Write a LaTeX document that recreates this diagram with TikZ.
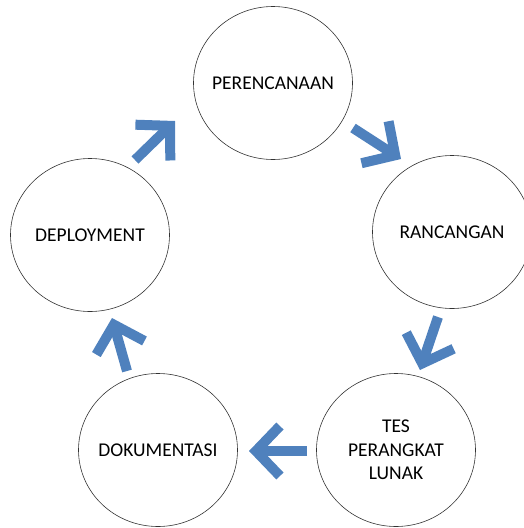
\documentclass[tikz,border=0pt]{standalone}
\usepackage{fontspec}
\setmainfont{Carlito}
\usetikzlibrary{shapes.geometric,arrows.meta}
\definecolor{officeblue}{RGB}{79,129,189}
\tikzstyle{phase} = [ellipse,
                    minimum width=159pt,
                    minimum height=153pt,
                    inner xsep=-8pt,
                    inner ysep=0pt,
                    align = center,
                    draw=black!80,
                    line width=0.6pt,
                    font=\fontsize{19.5}{23.5}\selectfont]
\tikzstyle{flow} = [draw=officeblue,
                   line width=10pt,
                   -{Straight Barb[sharp, length=24pt, width=50pt]}]
\tikzstyle{diagram} = [x=1pt,
                      y=1pt]

\begin{document}
\begin{tikzpicture}[diagram]
    \useasboundingbox (0,0) rectangle (523,-528);
    \node (plan) at (273,-83) [phase] {PERENCANAAN};
    \node (design) at (452,-232) [phase] {RANCANGAN};
    \node (test) at (396,-450) [phase] {TES\\PERANGKAT\\LUNAK};
    \node (docs) at (158,-450) [phase] {DOKUMENTASI};
    \node (deploy) at (90,-235) [phase] {DEPLOYMENT};
    % arrows between the phases
    \coordinate (t1) at (135,-160);
    \coordinate (h1) at (175,-121);
    \coordinate (t2) at (353,-128);
    \coordinate (h2) at (401,-159);
    \coordinate (t3) at (438,-317);
    \coordinate (h3) at (420,-370);
    \coordinate (t4) at (307,-451);
    \coordinate (h4) at (249,-451);
    \coordinate (t5) at (127,-371);
    \coordinate (h5) at (112,-318);
    \draw[flow] (t1) -- (h1);
    \draw[flow] (t2) -- (h2);
    \draw[flow] (t3) -- (h3);
    \draw[flow] (t4) -- (h4);
    \draw[flow] (t5) -- (h5);
\end{tikzpicture}
\end{document}
